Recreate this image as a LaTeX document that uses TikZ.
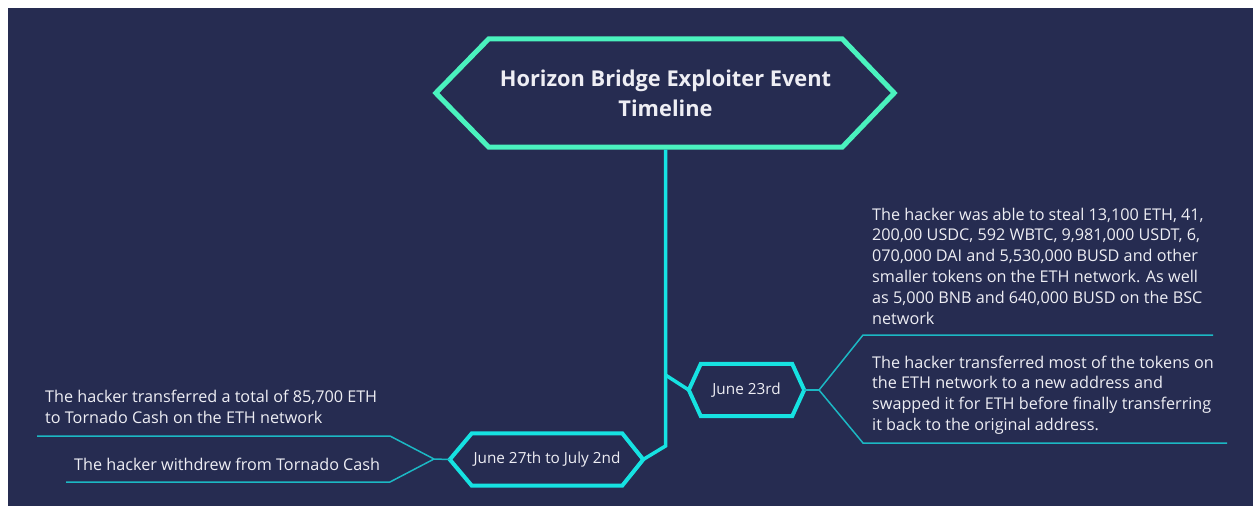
\documentclass[tikz,border=0pt]{standalone}
\usepackage{fontspec}
\setmainfont{Open Sans}
\usetikzlibrary{calc}
\definecolor{bg}{RGB}{38,44,81}
\definecolor{mint}{RGB}{74,242,190}
\definecolor{cyanhex}{RGB}{22,226,226}
\definecolor{teal}{RGB}{28,184,196}
\definecolor{txt}{RGB}{238,238,244}
\tikzset{
  titlebox/.style={inner sep=0pt, minimum width=353pt, minimum height=108pt, align=center, text=txt,
    font=\fontsize{21.8}{30}\selectfont\bfseries},
  datebox/.style={inner sep=0pt, minimum height=52pt, align=center, text=txt,
    font=\fontsize{15.3}{18}\selectfont},
  titlehex/.style={draw=mint, line width=5pt, line join=miter},
  datehex/.style={draw=cyanhex, line width=4pt, line join=miter},
  spine/.style={draw=cyanhex, line width=3.5pt},
  thin/.style={draw=teal, line width=1.5pt},
  note/.style={inner sep=0pt, align=left, text=txt, anchor=west,
    font=\fontsize{16.2}{20.8}\selectfont},
}
\begin{document}
\begin{tikzpicture}[x=1pt,y=-1pt]
\useasboundingbox (0,0) rectangle (1253,506);
\fill[bg] (8,8) rectangle (1253,506);

% title hexagon
\node[titlebox] (title) at (665.5,93) {Horizon Bridge Exploiter Event\\Timeline};
\coordinate (tL) at ([xshift=-53pt]title.west);
\coordinate (tR) at ([xshift=52pt]title.east);
\draw[titlehex] (title.north west) -- (title.north east) -- (tR) -- (title.south east)
  -- (title.south west) -- (tL) -- cycle;

% June 23rd
\node[datebox, minimum width=91pt] (d1) at (746.5,390) {June 23rd};
\coordinate (d1L) at ([xshift=-12pt]d1.west);
\coordinate (d1R) at ([xshift=12pt]d1.east);
\draw[datehex] (d1.north west) -- (d1.north east) -- (d1R) -- (d1.south east)
  -- (d1.south west) -- (d1L) -- cycle;

% June 27th
\node[datebox, minimum width=150pt] (d2) at (547,459.5) {June 27th to July 2nd};
\coordinate (d2L) at ([xshift=-22pt]d2.west);
\coordinate (d2R) at ([xshift=21pt]d2.east);
\draw[datehex] (d2.north west) -- (d2.north east) -- (d2R) -- (d2.south east)
  -- (d2.south west) -- (d2L) -- cycle;

% spine
\coordinate (bend) at (665.5,446);
\coordinate (branch) at (665.5,375);
\draw[spine] ([yshift=-2.5pt]title.south) -- (bend) -- (d2R);
\draw[spine] (branch) -- (d1L);

% right connectors
\coordinate (j1) at (819,390);
\coordinate (r1a) at (863,335);
\coordinate (r1b) at (1213,335);
\coordinate (r2a) at (863,443);
\coordinate (r2b) at (1227,443);
\draw[thin] (d1R) -- (j1);
\draw[thin] (j1) -- (r1a) -- (r1b);
\draw[thin] (j1) -- (r2a) -- (r2b);

% left connectors
\coordinate (j2) at (434,459);
\coordinate (l1a) at (390,436);
\coordinate (l1b) at (37,436);
\coordinate (l2a) at (390,482);
\coordinate (l2b) at (66,482);
\draw[thin] (d2L) -- (j2);
\draw[thin] (j2) -- (l1a) -- (l1b);
\draw[thin] (j2) -- (l2a) -- (l2b);

% notes
\node[note] (n1) at (872,266) {The hacker was able to steal 13,100 ETH, 41,\\200,00 USDC, 592 WBTC, 9,981,000 USDT, 6,\\070,000 DAI and 5,530,000 BUSD and other\\smaller tokens on the ETH network. As well\\as 5,000 BNB and 640,000 BUSD on the BSC\\network};
\node[note] (n2) at (872,395) {The hacker transferred most of the tokens on\\the ETH network to a new address and\\swapped it for ETH before finally transferring\\it back to the original address.};
\node[note] (n3) at (45,407) {The hacker transferred a total of 85,700 ETH\\to Tornado Cash on the ETH network};
\node[note] (n4) at (74,464) {The hacker withdrew from Tornado Cash};
\end{tikzpicture}
\end{document}
